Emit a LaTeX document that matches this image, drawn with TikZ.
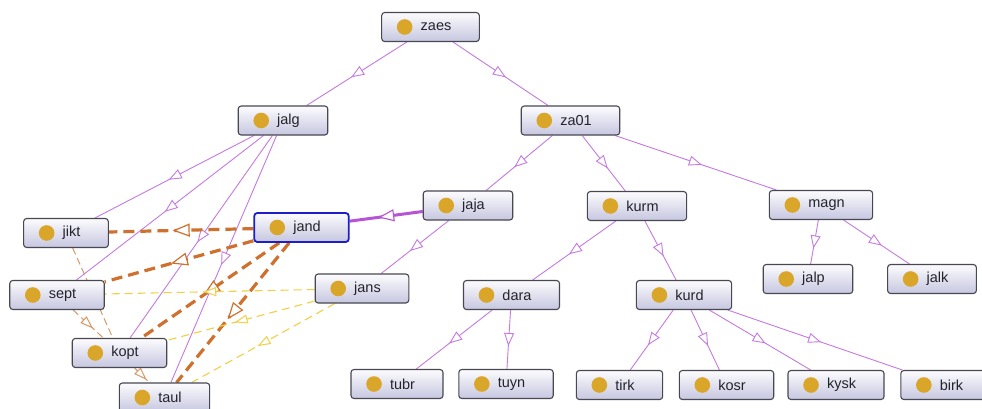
\documentclass[tikz,border=0pt]{standalone}
\usepackage{fontspec}
\newfontfamily\clsfont{Liberation Sans}
\usetikzlibrary{arrows.meta,decorations.markings}
\definecolor{purp}{RGB}{196,122,224}
\definecolor{purpdark}{RGB}{182,84,214}
\definecolor{orng}{RGB}{206,112,46}
\definecolor{orngthin}{RGB}{216,152,104}
\definecolor{yell}{RGB}{240,208,70}
\definecolor{gold}{RGB}{218,166,42}
\definecolor{boxtop}{RGB}{252,252,254}
\definecolor{boxbot}{RGB}{198,198,224}
\definecolor{boxborder}{RGB}{72,72,82}
\definecolor{selblue}{RGB}{30,30,200}
\definecolor{txt}{RGB}{36,36,44}
\pgfdeclarelayer{bg}
\pgfsetlayers{bg,main}
\newcommand\lbl[1]{\hspace*{39pt}#1\hspace*{28pt}}
\tikzset{
  cls/.style={draw=boxborder, line width=1.1pt, rounded corners=3pt,
    top color=boxtop, bottom color=boxbot, minimum height=29pt,
    inner xsep=0pt, inner ysep=0pt, text=txt,
    font={\clsfont\fontsize{14.5}{16}\selectfont},
    path picture={\fill[gold] ([xshift=23pt]path picture bounding box.west) circle (7.8pt);}},
  sel/.style={cls, draw=selblue, line width=1.8pt},
  midarrow/.style n args={4}{postaction={decorate}, decoration={markings,
    mark=at position 0.5 with {\arrow[xshift=#1/2]{Triangle[length=#1,width=#2,fill=white,line width=#3,color=#4]}}}},
  isa/.style={draw=purp, line width=0.9pt, midarrow={13pt}{10pt}{0.9pt}{purp}},
  isathick/.style={draw=purpdark, line width=3pt, midarrow={16pt}{12pt}{1.1pt}{purpdark}},
  relthick/.style={draw=orng, line width=3.2pt, dash pattern=on 11pt off 6pt, midarrow={17pt}{13pt}{1.2pt}{orng}},
  relthin/.style={draw=orngthin, line width=1pt, dash pattern=on 7pt off 4pt, midarrow={13pt}{9pt}{1pt}{orngthin}},
  relyell/.style={draw=yell, line width=1.1pt, dash pattern=on 8pt off 5pt, midarrow={13pt}{9pt}{1pt}{yell}},
}
\begin{document}
\begin{tikzpicture}[x=1pt,y=-1pt]
\useasboundingbox (0,0) rectangle (982,408);
\node[cls] (zaes) at (430.5,27) {\lbl{zaes}};
\node[cls] (jalg) at (283,120.5) {\lbl{jalg}};
\node[cls] (za01) at (570.5,120.5) {\lbl{za01}};
\node[cls] (jikt) at (66,233) {\lbl{jikt}};
\node[sel] (jand) at (301.5,227.5) {\lbl{jand}};
\node[cls] (jaja) at (468,205.5) {\lbl{jaja}};
\node[cls] (kurm) at (637,206) {\lbl{kurm}};
\node[cls] (magn) at (821,205) {\lbl{magn}};
\node[cls] (sept) at (57,295) {\lbl{sept}};
\node[cls] (jans) at (362,288.5) {\lbl{jans}};
\node[cls] (dara) at (511.5,295) {\lbl{dara}};
\node[cls] (kurd) at (684,295) {\lbl{kurd}};
\node[cls] (jalp) at (808,279) {\lbl{jalp}};
\node[cls] (jalk) at (932,279) {\lbl{jalk}};
\node[cls] (kopt) at (119.5,353) {\lbl{kopt}};
\node[cls] (taul) at (164.5,397.5) {\lbl{taul}};
\node[cls] (tubr) at (397,384) {\lbl{tubr}};
\node[cls] (tuyn) at (506,384) {\lbl{tuyn}};
\node[cls] (tirk) at (619.5,385) {\lbl{tirk}};
\node[cls] (kosr) at (726.5,385) {\lbl{kosr}};
\node[cls] (kysk) at (836,385) {\lbl{kysk}};
\node[cls] (birk) at (946,385) {\lbl{birk}};
\begin{pgfonlayer}{bg}
\fill[white] (0,0) rectangle (982,408);
\foreach \a/\b in {zaes/jalg, zaes/za01, jalg/jikt, jalg/sept, jalg/kopt, jalg/taul,
  za01/jaja, za01/kurm, za01/magn, jaja/jans, kurm/dara, kurm/kurd, magn/jalp, magn/jalk,
  dara/tubr, dara/tuyn, kurd/tirk, kurd/kosr, kurd/kysk, kurd/birk}
  \draw[isa] (\a) -- (\b);
\draw[isathick] (jaja) -- (jand);
\foreach \b in {jikt, sept, kopt, taul}
  \draw[relthick] (jand) -- (\b);
\draw[relthin] (jikt) -- (kopt);
\draw[relthin] (sept) -- (kopt);
\draw[relthin] (kopt) -- (taul);
\foreach \b in {sept, kopt, taul}
  \draw[relyell] (jans) -- (\b);
\end{pgfonlayer}
\end{tikzpicture}
\end{document}
